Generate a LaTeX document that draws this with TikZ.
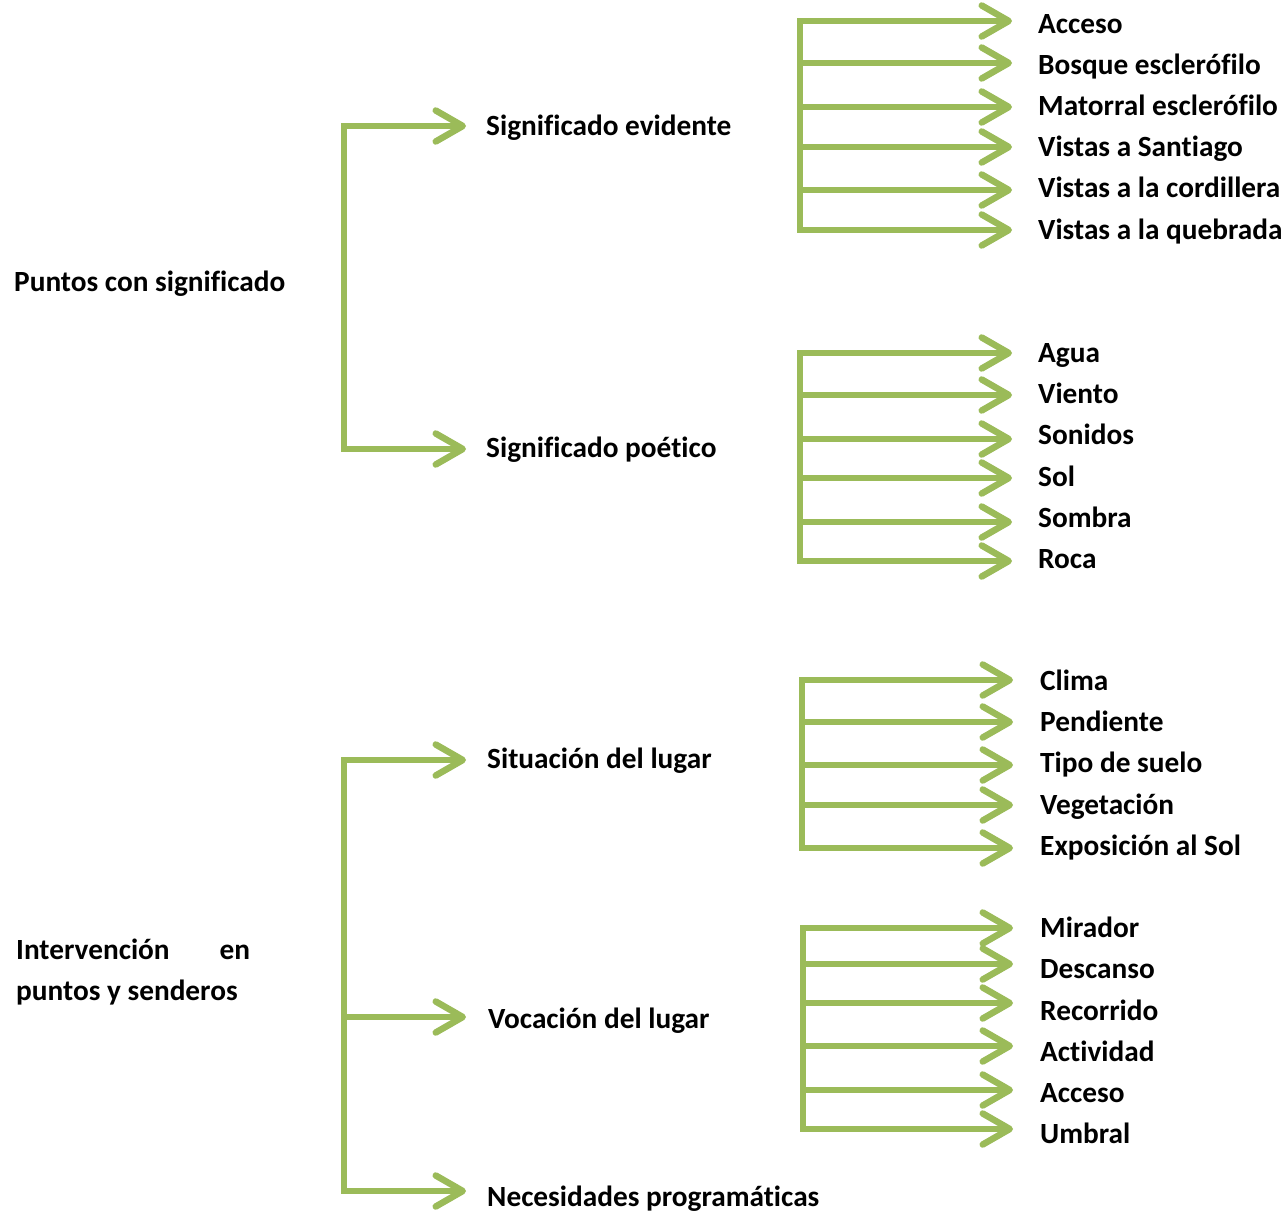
\documentclass[tikz,border=0pt]{standalone}
\usepackage{fontspec}
\setmainfont{Carlito}[Ligatures=NoCommon]
\usetikzlibrary{arrows.meta}
\definecolor{grn}{HTML}{9BBB59}
\begin{document}
\begin{tikzpicture}[x=1pt,y=-1pt,
  lbl/.style={anchor=west,inner sep=0pt,text height=18.5pt,text depth=0pt,font=\fontsize{29.3}{35}\selectfont\bfseries},
  bar/.style={draw=grn,line width=6.5pt,line cap=rect},
  arr/.style={draw=grn,line width=6.5pt,-{Straight Barb[length=27pt,width=31pt,line cap=round,line join=round]}},
]
\useasboundingbox (0,0) rectangle (1285,1212);

% left labels
\node[lbl] (puntos) at (14,282) {Puntos con significado};
\node[lbl,align=left] (interv) at (16,991) {\hbox to 234pt{Intervención\hfill en}\\[6pt]puntos y senderos};

% second column labels
\node[lbl] (sev) at (486,126) {Significado evidente};
\node[lbl] (spo) at (486,448) {Significado poético};
\node[lbl] (sit) at (487,759) {Situación del lugar};
\node[lbl] (voc) at (488,1019) {Vocación del lugar};
\node[lbl] (nec) at (487,1197) {Necesidades programáticas};

% left bars
\coordinate (b1t) at (344,126);
\coordinate (b1b) at (344,449);
\draw[bar] (b1t) -- (b1b);
\coordinate (t1a) at (466,126);
\coordinate (t1b) at (466,449);
\draw[arr] (b1t) -- (t1a);
\draw[arr] (b1b) -- (t1b);

\coordinate (b2t) at (344,760);
\coordinate (b2m) at (344,1017);
\coordinate (b2b) at (344,1191);
\draw[bar] (b2t) -- (b2b);
\coordinate (t2a) at (466,760);
\coordinate (t2b) at (466,1017);
\coordinate (t2c) at (466,1191);
\draw[arr] (b2t) -- (t2a);
\draw[arr] (b2m) -- (t2b);
\draw[arr] (b2b) -- (t2c);

% group 1
\foreach \y/\t/\l [count=\i] in {21/Acceso/24,63/Bosque esclerófilo/65,107/Matorral esclerófilo/106,147/Vistas a Santiago/147,190/Vistas a la cordillera/188,230/Vistas a la quebrada/230}{
  \node[lbl] (ga\i) at (1038,\l) {\t};
  \coordinate (gas\i) at (800,\y);
  \coordinate (gae\i) at (1012,\y);
  \draw[arr] (gas\i) -- (gae\i);
}
\draw[bar] (gas1) -- (gas6);

% group 2
\foreach \y/\t/\l [count=\i] in {353/Agua/353,395/Viento/394,439/Sonidos/435,478/Sol/477,522/Sombra/518,561/Roca/559}{
  \node[lbl] (gb\i) at (1038,\l) {\t};
  \coordinate (gbs\i) at (800,\y);
  \coordinate (gbe\i) at (1012,\y);
  \draw[arr] (gbs\i) -- (gbe\i);
}
\draw[bar] (gbs1) -- (gbs6);

% group 3
\foreach \y/\t/\l [count=\i] in {680/Clima/681,722/Pendiente/722,765/Tipo de suelo/763,805/Vegetación/805,848/Exposición al Sol/846}{
  \node[lbl] (gc\i) at (1040,\l) {\t};
  \coordinate (gcs\i) at (802,\y);
  \coordinate (gce\i) at (1013,\y);
  \draw[arr] (gcs\i) -- (gce\i);
}
\draw[bar] (gcs1) -- (gcs5);

% group 4
\foreach \y/\t/\l [count=\i] in {928/Mirador/928,964/Descanso/969,1003/Recorrido/1011,1046/Actividad/1052,1090/Acceso/1093,1129/Umbral/1134}{
  \node[lbl] (gd\i) at (1040,\l) {\t};
  \coordinate (gds\i) at (803,\y);
  \coordinate (gde\i) at (1013,\y);
  \draw[arr] (gds\i) -- (gde\i);
}
\draw[bar] (gds1) -- (gds6);
\end{tikzpicture}
\end{document}
